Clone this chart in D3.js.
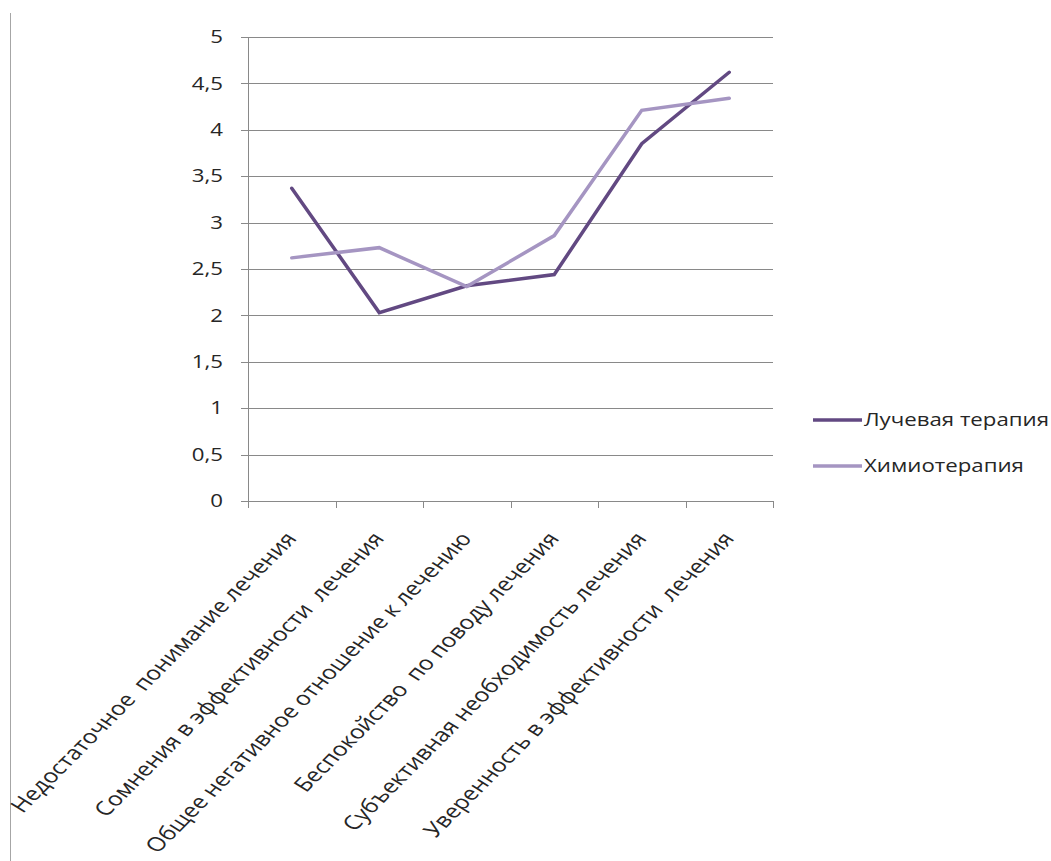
<!DOCTYPE html>
<html>
<head>
<meta charset="utf-8">
<script src="https://cdn.jsdelivr.net/npm/d3@7"></script>
<style>
  html, body { margin: 0; padding: 0; background: #fff; }
  svg { display: block; }
  text { font-family: "Open Sans", "Noto Sans", sans-serif; fill: #262626; }
</style>
</head>
<body>
<svg id="chart" width="1051" height="861"></svg>
<script>
// Categories (x axis)
const categories = [
  "Недостаточное  понимание лечения",
  "Сомнения в эффективности  лечения",
  "Общее негативное отношение к лечению",
  "Беспокойство  по поводу лечения",
  "Субъективная необходимость лечения",
  "Уверенность в эффективности  лечения"
];

// Series values
const seriesNames = ["Лучевая терапия", "Химиотерапия"];
const radiation = [3.37, 2.03, 2.32, 2.44, 3.85, 4.62];
const chemo = [2.62, 2.73, 2.31, 2.86, 4.21, 4.34];

// Y axis ticks
const yTicks = [0, 0.5, 1, 1.5, 2, 2.5, 3, 3.5, 4, 4.5, 5];
const yTickLabels = ["0", "0,5", "1", "1,5", "2", "2,5", "3", "3,5", "4", "4,5", "5"];

const colors = ["#624982", "#a595c2"];

// Text is drawn slightly widened horizontally
const sx = 1.27;
const fontSize = 17.5;
const catFontSize = 19.5;
const labelAngle = Math.atan(sx) * 180 / Math.PI; // appears as 45° after widening

const svg = d3.select("#chart");
const plot = { left: 248, right: 773, top: 37, bottom: 501 };

// Frame line at the left edge
svg.append("line")
  .attr("x1", 10.5).attr("x2", 10.5)
  .attr("y1", 13).attr("y2", 861)
  .attr("stroke", "#a6a6a6").attr("stroke-width", 1);

const x = d3.scaleBand().domain(categories).range([plot.left, plot.right]).padding(0);
const y = d3.scaleLinear().domain([0, 5]).range([plot.bottom, plot.top]);

// Horizontal gridlines
svg.append("g")
  .selectAll("line")
  .data(yTicks)
  .join("line")
  .attr("x1", plot.left - 7).attr("x2", plot.right)
  .attr("y1", d => Math.round(y(d)) + 0.5).attr("y2", d => Math.round(y(d)) + 0.5)
  .attr("stroke", "#898989").attr("stroke-width", 1);

// Y axis line
svg.append("line")
  .attr("x1", plot.left + 0.5).attr("x2", plot.left + 0.5)
  .attr("y1", plot.top).attr("y2", plot.bottom)
  .attr("stroke", "#898989");

// Y tick labels
svg.append("g")
  .selectAll("text")
  .data(yTicks)
  .join("text")
  .attr("transform", d => `translate(${plot.left - 25},${y(d)}) scale(${sx},1)`)
  .attr("dy", "0.35em")
  .attr("text-anchor", "end")
  .attr("font-size", fontSize)
  .text((d, i) => yTickLabels[i]);

// X axis tick marks at category boundaries
const bounds = categories.map(c => x(c)).concat([plot.right]);
svg.append("g")
  .selectAll("line")
  .data(bounds)
  .join("line")
  .attr("x1", d => Math.round(d) + 0.5).attr("x2", d => Math.round(d) + 0.5)
  .attr("y1", plot.bottom).attr("y2", plot.bottom + 7)
  .attr("stroke", "#898989");

// Rotated category labels
svg.append("g")
  .selectAll("text")
  .data(categories)
  .join("text")
  .attr("transform", d => `translate(${x(d) + x.bandwidth() / 2 + 6},${plot.bottom + 38}) scale(${sx},1) rotate(${-labelAngle})`)
  .attr("text-anchor", "end")
  .attr("font-size", catFontSize)
  .attr("xml:space", "preserve")
  .style("white-space", "pre")
  .text(d => d);

// Lines
const line = d3.line()
  .x((d, i) => x(categories[i]) + x.bandwidth() / 2)
  .y(d => y(d));

[radiation, chemo].forEach((vals, k) => {
  svg.append("path")
    .datum(vals)
    .attr("d", line)
    .attr("fill", "none")
    .attr("stroke", colors[k])
    .attr("stroke-width", 3.5)
    .attr("stroke-linejoin", "miter")
    .attr("stroke-linecap", "round");
});

// Legend
const legend = svg.append("g");
seriesNames.forEach((name, k) => {
  const ly = 420 + k * 46;
  legend.append("line")
    .attr("x1", 813).attr("x2", 862)
    .attr("y1", ly).attr("y2", ly)
    .attr("stroke", colors[k]).attr("stroke-width", 3.5);
  legend.append("text")
    .attr("transform", `translate(864,${ly}) scale(${sx},1)`)
    .attr("dy", "0.35em")
    .attr("font-size", fontSize)
    .text(name);
});
</script>
</body>
</html>
